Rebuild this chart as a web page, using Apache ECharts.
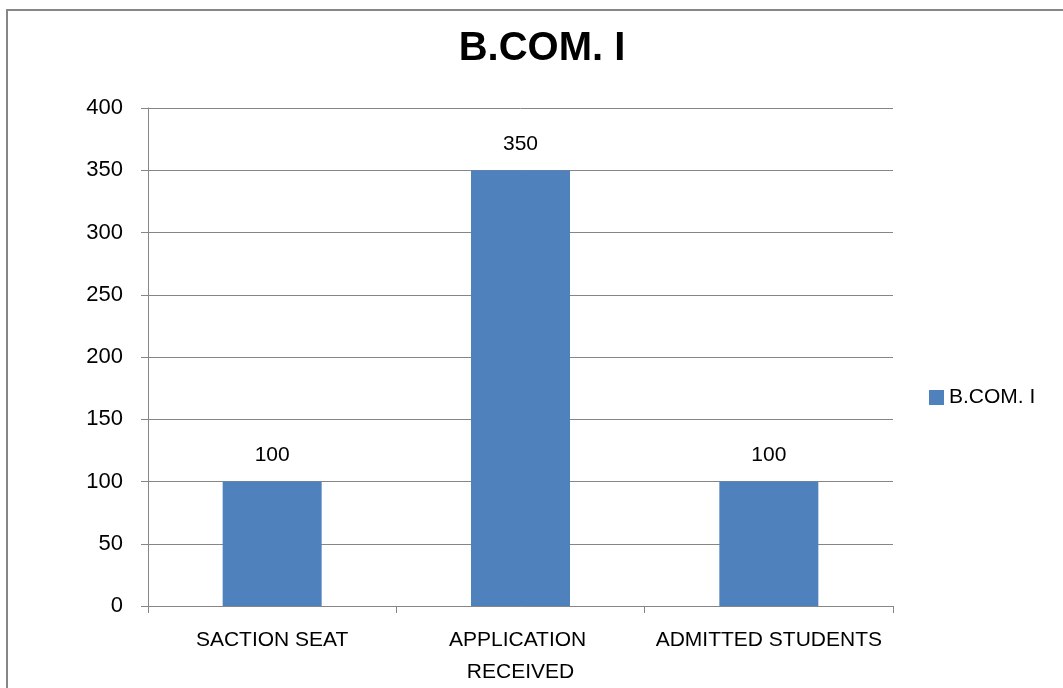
<!DOCTYPE html>
<html>
<head>
<meta charset="utf-8">
<script src="https://cdn.jsdelivr.net/npm/echarts@6/dist/echarts.min.js"></script>
<style>
  html, body { margin: 0; padding: 0; background: #fff; }
  #chart { width: 1063px; height: 688px; }
</style>
</head>
<body>
<div id="chart"></div>
<script>
const categories = ['SACTION SEAT', 'APPLICATION RECEIVED', 'ADMITTED STUDENTS']
const seriesName = 'B.COM. I'
const values = [100, 350, 100]

const gray = '#868686'
const font = 'Liberation Sans, Arial, sans-serif'

const chart = echarts.init(document.getElementById('chart'))

chart.setOption({
  animation: false,
  title: {
    text: 'B.COM. I',
    left: 537,
    top: 24,
    textAlign: 'center',
    textStyle: { color: '#000', fontSize: 40, fontWeight: 'bold', fontFamily: font },
  },
  graphic: [
    {
      type: 'rect',
      shape: { x: 7, y: 10, width: 1100, height: 800 },
      style: { fill: 'none', stroke: gray, lineWidth: 2 },
      silent: true,
    },
  ],
  legend: {
    left: 924,
    top: 382,
    orient: 'vertical',
    icon: 'rect',
    itemWidth: 15,
    itemHeight: 15,
    itemGap: 7,
    textStyle: { color: '#000', fontSize: 21, fontFamily: font },
    data: [seriesName],
  },
  grid: { left: 148, right: 170, top: 108, bottom: 82 },
  xAxis: {
    type: 'category',
    data: categories,
    axisLine: { lineStyle: { color: gray, width: 1 } },
    axisTick: { show: true, length: 7, lineStyle: { color: gray } },
    axisLabel: {
      color: '#000',
      fontSize: 21,
      fontFamily: font,
      margin: 18,
      lineHeight: 32,
      width: 244,
      overflow: 'break',
      interval: 0,
    },
  },
  yAxis: {
    type: 'value',
    min: 0,
    max: 400,
    interval: 50,
    axisLine: { show: true, lineStyle: { color: gray, width: 1 } },
    axisTick: { show: true, length: 7, lineStyle: { color: gray } },
    axisLabel: { color: '#000', fontSize: 22, fontFamily: font, margin: 25 },
    splitLine: { lineStyle: { color: gray, width: 1 } },
  },
  series: [
    {
      name: seriesName,
      type: 'bar',
      data: values,
      barWidth: 99,
      itemStyle: { color: '#4F81BD' },
      label: {
        show: true,
        position: 'top',
        distance: 16,
        color: '#000',
        fontSize: 21,
        fontFamily: font,
      },
    },
  ],
})
</script>
</body>
</html>
